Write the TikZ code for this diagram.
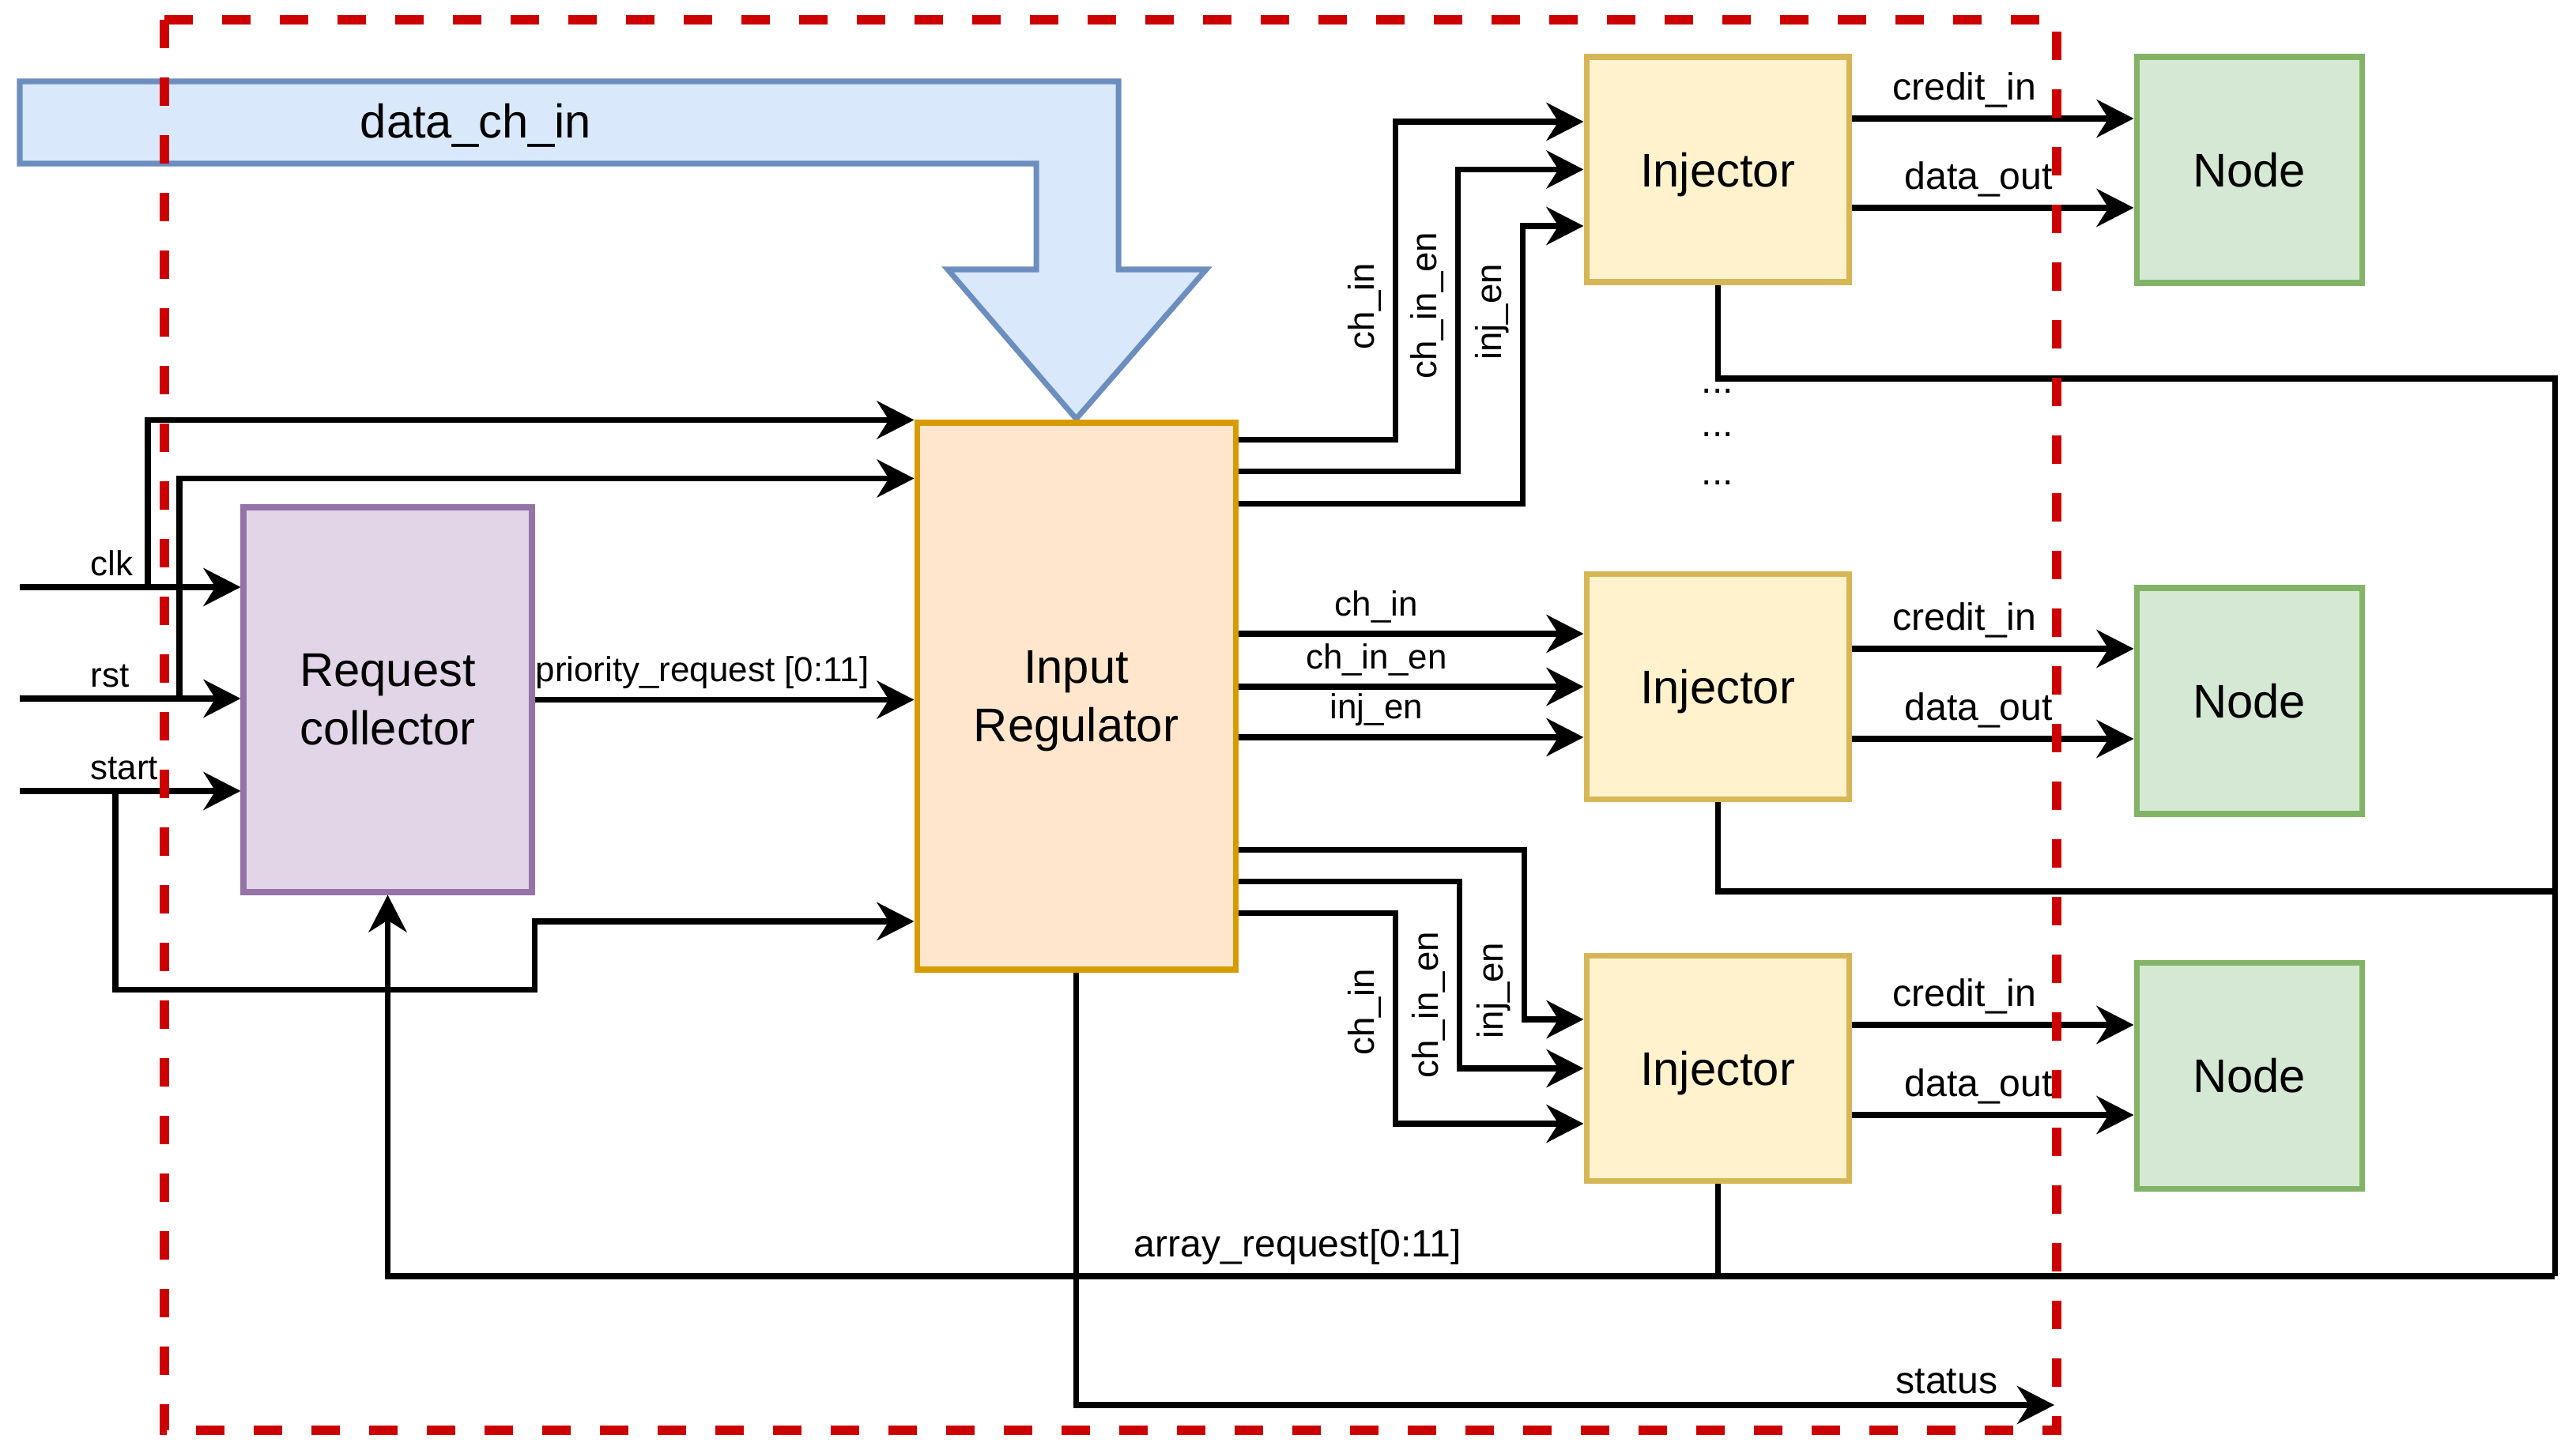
\documentclass[tikz,border=0pt]{standalone}
\usepackage{fontspec}
\setmainfont{Liberation Sans}
\usetikzlibrary{arrows.meta}
\definecolor{bluef}{HTML}{DAE8FC}\definecolor{bluel}{HTML}{6C8EBF}
\definecolor{orf}{HTML}{FFE6CC}\definecolor{orl}{HTML}{D79B00}
\definecolor{puf}{HTML}{E1D5E7}\definecolor{pul}{HTML}{9673A6}
\definecolor{yef}{HTML}{FFF2CC}\definecolor{yel}{HTML}{D6B656}
\definecolor{grf}{HTML}{D5E8D4}\definecolor{grl}{HTML}{82B366}
\definecolor{redl}{HTML}{CC0000}

\begin{document}
\begin{tikzpicture}[>={Stealth[length=4.7mm,width=4.8mm,inset=1.5mm]},line width=2pt]
\tikzstyle{blk}=[draw,align=center,font=\fontsize{17}{21}\selectfont]
\tikzstyle{inj}=[blk,fill=yef,draw=yel,minimum width=3.32cm,minimum height=2.85cm,text depth=0pt]
\tikzstyle{nd}=[blk,fill=grf,draw=grl,minimum width=2.85cm,minimum height=2.86cm]
\tikzstyle{lab}=[font=\fontsize{12.5}{15}\selectfont,inner sep=3pt]
\tikzstyle{labb}=[font=\fontsize{13.7}{16}\selectfont,inner sep=3pt]
\tikzstyle{vlab}=[font=\fontsize{13}{15}\selectfont,rotate=90,anchor=south,inner sep=4pt]
\useasboundingbox (0,0) rectangle (32.59,-18.40);
% data_ch_in bus arrow
\draw[fill=bluef,draw=bluel] (0.25,-1.03) -- (14.15,-1.03) -- (14.15,-3.41) -- (15.26,-3.41) -- (13.615,-5.30) -- (11.99,-3.41) -- (13.11,-3.41) -- (13.11,-2.07) -- (0.25,-2.07) -- cycle;
\node[blk,draw=none] (dci) at (6.02,-1.59) {data\_ch\_in};
% blocks
\node[blk,fill=puf,draw=pul,minimum width=3.65cm,minimum height=4.87cm] (rc) at (4.905,-8.855) {Request\\collector};
\node[blk,fill=orf,draw=orl,minimum width=4.03cm,minimum height=6.92cm,text depth=0pt] (ir) at (13.615,-8.81) {Input\\Regulator};
\node[inj] (inj1) at (21.73,-2.145) {Injector};
\node[inj] (inj2) at (21.73,-8.69) {Injector};
\node[inj] (inj3) at (21.73,-13.52) {Injector};
\node[nd] (nd1) at (28.455,-2.15) {Node};
\node[nd] (nd2) at (28.455,-8.87) {Node};
\node[nd] (nd3) at (28.455,-13.615) {Node};
\foreach \y/\n in {4.95/dots1,5.50/dots2,6.11/dots3} \node[labb] (\n) at (21.73,-\y) {...};
% inputs
\coordinate (clk) at (0.25,-7.43); \coordinate (rst) at (0.25,-8.84); \coordinate (start) at (0.25,-10.01);
\draw[->] (clk) -- node[lab,pos=0.27,above right]{clk} (clk -| rc.west);
\draw[->] (rst) -- node[lab,pos=0.27,above right]{rst} (rst -| rc.west);
\draw[->] (start) -- node[lab,pos=0.27,above right]{start} (start -| rc.west);
\draw[->] ([xshift=1.62cm]clk) |- (ir.north west);
\draw[->] ([xshift=2.02cm]rst) |- ([yshift=-0.74cm]ir.north west);
\draw[->] ([xshift=1.21cm]start) |- ([yshift=-1.2cm]rc.south east) |- ([yshift=-2.85cm]ir.west);
\draw[->] (rc.east) -- node[lab,above,xshift=-0.28cm]{priority\_request [0:11]} (rc.east -| ir.west);
% regulator to injectors
\foreach \s/\t/\x/\p/\l in {-0.25/0.605/-2.38/0.71/ch\_in,-0.65/0/-1.59/0.775/ch\_in\_en,-1.06/-0.715/-0.77/0.845/inj\_en}
  \draw[->] ([yshift=\s cm]ir.north east) -| ([xshift=\x cm,yshift=\t cm]inj1.west) node[vlab,pos=\p]{\l} -- ([yshift=\t cm]inj1.west);
\foreach \t/\l in {0.67/ch\_in,0/ch\_in\_en,-0.64/inj\_en}
  \draw[->] ([yshift=\t cm]inj2.west -| ir.east) -- node[lab,above,pos=0.4]{\l} ([yshift=\t cm]inj2.west);
\foreach \s/\t/\x/\p/\l in {1.55/0.62/-0.75/0.915/inj\_en,1.15/0/-1.57/0.83/ch\_in\_en,0.75/-0.70/-2.38/0.735/ch\_in}
  \draw[->] ([yshift=\s cm]ir.south east) -| ([xshift=\x cm,yshift=\t cm]inj3.west) node[vlab,pos=\p]{\l} -- ([yshift=\t cm]inj3.west);
% injectors to nodes
\foreach \i/\a/\b in {1/0.645/-0.485,2/0.48/-0.66,3/0.55/-0.59} {
  \draw[->] ([yshift=\a cm]inj\i.east) -- node[labb,above,pos=0.4]{credit\_in} ([yshift=\a cm]inj\i.east -| nd\i.west);
  \draw[->] ([yshift=\b cm]inj\i.east) -- node[labb,above,pos=0.45]{data\_out} ([yshift=\b cm]inj\i.east -| nd\i.west);
}
% request feedback and status
\coordinate (rt1) at (32.32,-4.79); \coordinate (rt2) at (32.32,-11.28); \coordinate (bus) at (32.32,-16.15);
\coordinate (status) at (25.99,-17.78);
\draw (inj1.south) |- (rt1) -- (bus);
\draw (inj2.south) |- (rt2);
\draw (inj3.south) -- (inj3.south |- bus);
\draw[->] (bus) -| node[labb,above,pos=0.29]{array\_request[0:11]} (rc.south);
\draw[->] (ir.south) |- node[labb,above,pos=0.945]{status} (status);
% boundary
\draw[redl,line width=3.4pt,dash pattern=on 0.36cm off 0.37cm] (2.08,-0.25) rectangle (26.02,-18.10);
\end{tikzpicture}
\end{document}
